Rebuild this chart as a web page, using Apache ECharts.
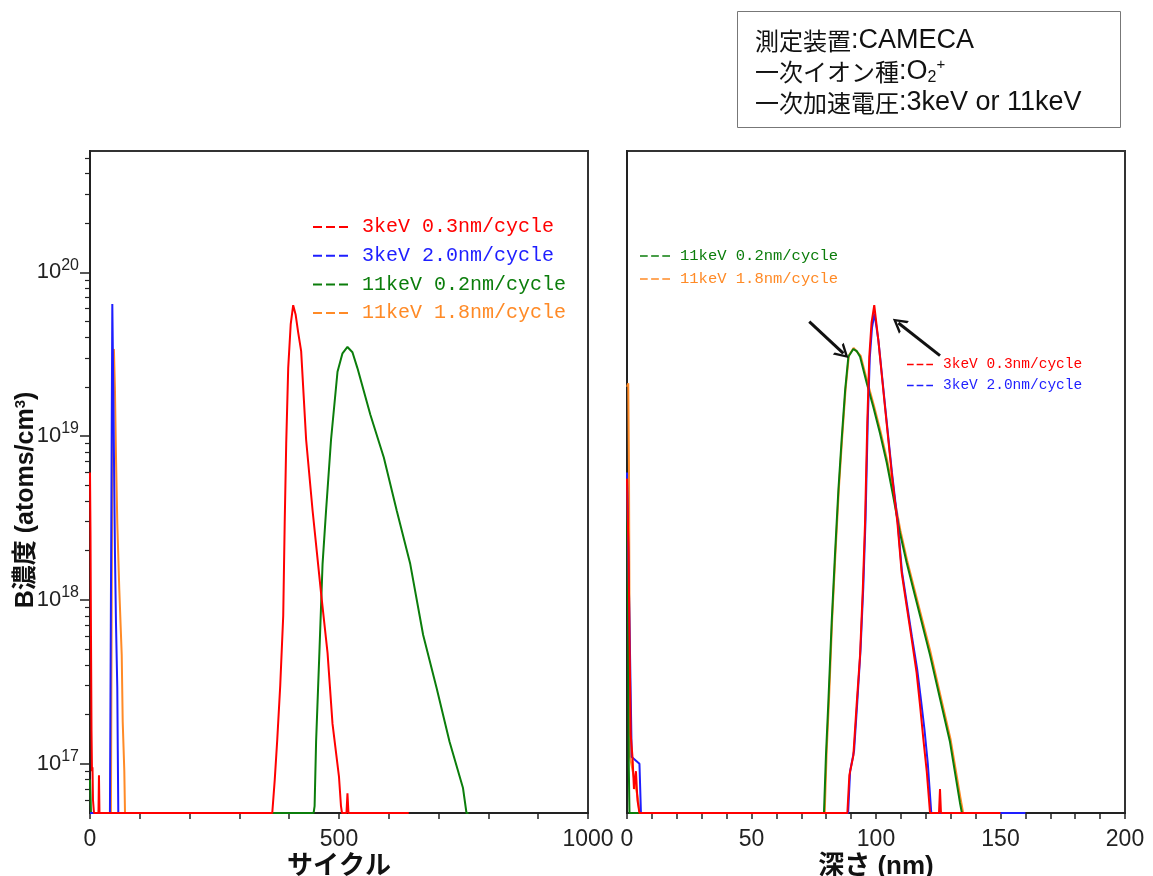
<!DOCTYPE html>
<html>
<head>
<meta charset="utf-8">
<title>B濃度プロファイル</title>
<script src="https://cdn.jsdelivr.net/npm/echarts@6/dist/echarts.min.js"></script>
<style>
  html, body { margin: 0; padding: 0; background: #fff; }
  #chart { width: 1153px; height: 876px; }
</style>
</head>
<body>
<div id="chart"></div>
<script>
// series names (legend text)
const names = ['3keV 0.3nm/cycle', '3keV 2.0nm/cycle', '11keV 0.2nm/cycle', '11keV 1.8nm/cycle']
const colors = ['#ff0000', '#1e1eff', '#0b7d0b', '#ff8a26']

// y range (atoms/cm3), decade ticks
const yMin = 5e16
const yMax = 5.5e20
const majorTicks = [1e17, 1e18, 1e19, 1e20]

// left chart: [cycle, concentration]
const red03Cycle = [[0, 6e18], [1, 2.5e18], [2, 6e17], [3, 1.6e17], [4, 9e16], [5, 9.5e16], [6, 6e16], [8, 5e16],
  [17, 5e16], [18, 8.5e16], [19, 5e16], [366, 5e16], [371, 8e16], [376, 1.4e17], [382, 3e17], [388, 8e17],
  [391, 3e18], [394, 9e18], [398, 2.6e19], [403, 4.8e19], [408, 6.3e19], [413, 5.5e19], [418, 4.3e19],
  [424, 3.3e19], [434, 9.5e18], [447, 3.5e18], [464, 1.1e18], [477, 4.75e17], [487, 1.75e17], [500, 8.3e16],
  [504, 5.5e16], [506, 5e16], [515, 5e16], [517, 6.6e16], [519, 5e16], [640, 5e16]]
const blue20Cycle = [[0, 5e16], [40, 5e16], [44.8, 6.4e19], [46.8, 1.9e19], [48.8, 4.7e18], [50.2, 1.86e18],
  [52.2, 7.2e17], [54.8, 2.9e17], [55.8, 1.2e17], [56.8, 5e16]]
const green02Cycle = [[0, 8e16], [1, 6.5e16], [2, 5e16], [449, 5e16], [451, 5.5e16], [454, 1.36e17],
  [460.6, 4.75e17], [467, 1.66e18], [474, 3.5e18], [484, 9.5e18], [497, 2.47e19], [507, 3.2e19], [517, 3.5e19],
  [527, 3.25e19], [537, 2.6e19], [563, 1.35e19], [590, 7.4e18], [616, 3.5e18], [643, 1.66e18], [669, 6.1e17],
  [696, 2.9e17], [722, 1.36e17], [749, 7.1e16], [756, 5e16], [760, 5e16]]
const orange18Cycle = [[0, 5e16], [42, 5e16], [44, 2e18], [46.5, 3.3e19], [48, 3.4e19], [50, 2e19], [52.2, 7.5e18],
  [54.8, 2.95e18], [58.8, 1.16e18], [63.7, 4.6e17], [65.7, 1.8e17], [68.9, 9e16], [70.3, 5e16]]

// right chart: [depth nm, concentration]
const red03Depth = [[0, 5.5e18], [0.6, 2e18], [1.0, 6e17], [1.5, 1.5e17], [2.2, 1.1e17], [2.8, 7e16], [3.6, 9e16],
  [4.2, 6e16], [5, 5e16], [88.5, 5e16], [89.3, 8.5e16], [90.9, 1.12e17], [92.2, 2.26e17], [93.6, 4.6e17],
  [94.7, 1.16e18], [95.6, 2.96e18], [96.5, 1.2e19], [97.3, 3.05e19], [98.2, 4.9e19], [99.3, 6.3e19],
  [100.9, 3.9e19], [103.6, 1.51e19], [106.3, 5.95e18], [108.6, 2.96e18], [110.3, 1.47e18], [112.3, 9.2e17],
  [114.3, 5.8e17], [116.3, 3.6e17], [117.7, 2.26e17], [119, 1.42e17], [120.4, 8.9e16], [121.7, 5e16],
  [125.3, 5e16], [125.7, 7e16], [126.1, 5e16], [150, 5e16]]
const blue20Depth = [[0, 6e18], [0.3, 5.9e18], [1.9, 1.1e17], [5.0, 1.0e17], [5.6, 5e16], [88.8, 5e16],
  [89.6, 9e16], [91.2, 1.2e17], [92.5, 2.4e17], [93.8, 5e17], [94.9, 1.2e18], [95.8, 3.1e18], [96.7, 1.25e19],
  [97.5, 3e19], [98.4, 4.6e19], [99.4, 5.6e19], [101, 3.8e19], [103.7, 1.5e19], [106.4, 6e18], [108.7, 3e18],
  [110.4, 1.5e18], [112.4, 9.5e17], [114.4, 6e17], [116.5, 3.8e17], [118, 2.5e17], [119.5, 1.6e17],
  [120.8, 1e17], [122.2, 5e16], [160, 5e16]]
const green02Depth = [[0, 5e18], [0.4, 8e17], [0.7, 1e17], [1, 5e16], [79.1, 5e16], [79.9, 1.12e17],
  [80.8, 2.26e17], [82.2, 7.3e17], [83.5, 1.85e18], [84.9, 4.7e18], [86.2, 9.5e18], [87.6, 1.9e19],
  [88.9, 3.05e19], [90.9, 3.4e19], [92.3, 3.3e19], [93.6, 3.05e19], [96.3, 2.1e19], [98.9, 1.51e19],
  [101.6, 1.04e19], [104.3, 6.9e18], [106.9, 4.3e18], [109.6, 2.57e18], [112.3, 1.69e18], [115, 1.16e18],
  [117.7, 8e17], [121.7, 4.6e17], [125.7, 2.5e17], [129.7, 1.36e17], [133.7, 5.8e16], [134.5, 5e16]]
const orange18Depth = [[0, 2e19], [0.5, 2.1e19], [0.8, 6e18], [1.2, 1.1e17], [4.5, 6e16], [5, 5e16],
  [79.4, 5e16], [80.2, 1.2e17], [81.1, 2.4e17], [82.4, 7.6e17], [83.7, 1.9e18], [85.1, 4.8e18], [86.4, 9.7e18],
  [87.8, 1.95e19], [89.1, 3.1e19], [91, 3.45e19], [93.8, 3.1e19], [96.5, 2.15e19], [99.1, 1.55e19],
  [101.8, 1.07e19], [104.5, 7.1e18], [107.1, 4.4e18], [109.8, 2.65e18], [112.5, 1.74e18], [115.2, 1.2e18],
  [117.9, 8.3e17], [121.9, 4.8e17], [125.9, 2.6e17], [129.9, 1.42e17], [133.9, 6.2e16], [135, 5e16]]

// annotation arrows in right chart: [depth, conc] tail -> head
const arrowTails = [[73.2, 5.0e19], [125.7, 3.1e19]]
const arrowHeads = [[86.9, 3.2e19], [109, 4.9e19]]

const minorTicks = []
for (let n = 16; n <= 20; n++) {
  for (let k = 2; k <= 9; k++) {
    const v = k * Math.pow(10, n)
    if (v > yMin && v < yMax) minorTicks.push(v)
  }
}

const numFont = '"Liberation Sans", sans-serif'
const jpFont = '"Liberation Sans", "Noto Sans CJK JP", sans-serif'
const cjkFont = '"Noto Sans CJK JP", sans-serif'
const monoFont = '"Liberation Mono", "DejaVu Sans Mono", monospace'
const dashIcon = 'path://M0,0h9v2h-9z M13,0h9v2h-9z M26,0h9v2h-9z'
const chevron = 'path://M0,12 L7,0 L14,12 L11.6,12 L7,4 L2.4,12 Z'
const axisColor = '#222'

const chart = echarts.init(document.getElementById('chart'))

function line(idx, data, xi, yi, extra) {
  return Object.assign({
    name: names[idx],
    type: 'line',
    xAxisIndex: xi,
    yAxisIndex: yi,
    data: data,
    showSymbol: false,
    symbol: 'none',
    clip: true,
    lineStyle: { width: 2, color: colors[idx] },
    itemStyle: { color: colors[idx] }
  }, extra || {})
}

function legendItems(list) {
  return list.map(i => ({ name: names[i], textStyle: { color: colors[i] } }))
}

function yLabel(v) {
  const e = Math.log10(v)
  const r = Math.round(e)
  if (Math.abs(e - r) > 1e-6) return ''
  return '{b|10}{e|' + r + '}'
}

const boxText = {
  j: { fontSize: 24, fontFamily: cjkFont, fill: '#111', lineHeight: 30 },
  l: { fontSize: 27, fontFamily: numFont, fill: '#111', lineHeight: 30 },
  sub: { fontSize: 16, fontFamily: numFont, fill: '#111', padding: [12, 0, 0, 0] },
  sup: { fontSize: 15, fontFamily: numFont, fill: '#111', padding: [0, 0, 14, 0] }
}

chart.setOption({
  animation: false,
  backgroundColor: '#fff',
  grid: [
    { left: 90, top: 151, width: 498, height: 662, outerBoundsMode: 'none', containLabel: false,
      show: true, borderColor: '#333', borderWidth: 2 },
    { left: 627, top: 151, width: 498, height: 662, outerBoundsMode: 'none', containLabel: false,
      show: true, borderColor: '#333', borderWidth: 2 }
  ],
  xAxis: [
    {
      gridIndex: 0, type: 'value', min: 0, max: 1000, interval: 100,
      axisLine: { onZero: false, lineStyle: { color: axisColor, width: 2 } },
      axisTick: { length: 6, lineStyle: { color: axisColor, width: 1.5 } },
      axisLabel: { color: '#222', fontSize: 23, fontFamily: numFont, margin: 15,
        formatter: v => (v % 500 === 0 ? String(v) : '') },
      splitLine: { show: false },
      name: 'サイクル', nameLocation: 'middle', nameGap: 41, nameMoveOverlap: false,
      nameTextStyle: { color: '#111', fontSize: 26, fontWeight: 'bold', fontFamily: jpFont }
    },
    {
      gridIndex: 1, type: 'value', min: 0, max: 200, interval: 10,
      axisLine: { onZero: false, lineStyle: { color: axisColor, width: 2 } },
      axisTick: { length: 6, lineStyle: { color: axisColor, width: 1.5 } },
      axisLabel: { color: '#222', fontSize: 23, fontFamily: numFont, margin: 15,
        formatter: v => (v % 50 === 0 ? String(v) : '') },
      splitLine: { show: false },
      name: '深さ (nm)', nameLocation: 'middle', nameGap: 41, nameMoveOverlap: false,
      nameTextStyle: { color: '#111', fontSize: 26, fontWeight: 'bold', fontFamily: jpFont }
    }
  ],
  yAxis: [
    {
      gridIndex: 0, type: 'log', logBase: 10, min: yMin, max: yMax, position: 'left',
      axisLine: { show: true, lineStyle: { color: axisColor, width: 2 } },
      axisTick: { show: true, length: 10, customValues: majorTicks, lineStyle: { color: axisColor, width: 1.5 } },
      axisLabel: {
        customValues: majorTicks, margin: 11, color: '#222', formatter: yLabel,
        rich: {
          b: { fontSize: 22, fontFamily: numFont, color: '#222' },
          e: { fontSize: 16, fontFamily: numFont, color: '#222', padding: [0, 0, 14, 0] }
        }
      },
      splitLine: { show: false },
      name: 'B濃度 (atoms/cm{s|3})', nameLocation: 'middle', nameRotate: 90, nameGap: 50,
      nameMoveOverlap: false,
      nameTextStyle: {
        color: '#111', fontSize: 25, fontWeight: 'bold', fontFamily: jpFont, padding: [0, 36, 0, 0],
        rich: { s: { fontSize: 15, fontWeight: 'bold', fontFamily: jpFont, padding: [0, 0, 12, 0] } }
      }
    },
    {
      gridIndex: 0, type: 'log', logBase: 10, min: yMin, max: yMax, position: 'left', offset: 0,
      axisLine: { show: false },
      axisTick: { show: true, length: 5, customValues: minorTicks, lineStyle: { color: axisColor, width: 1.2 } },
      axisLabel: { show: false },
      splitLine: { show: false }
    },
    {
      gridIndex: 1, type: 'log', logBase: 10, min: yMin, max: yMax, position: 'left',
      axisLine: { show: true, lineStyle: { color: axisColor, width: 2 } },
      axisTick: { show: false },
      axisLabel: { show: false },
      splitLine: { show: false }
    }
  ],
  legend: [
    {
      left: 313, top: 217, padding: 0, orient: 'vertical', selectedMode: false,
      itemWidth: 35, itemHeight: 2, itemGap: 8.7, icon: dashIcon,
      textStyle: { fontFamily: monoFont, fontSize: 20, lineHeight: 20, padding: [0, 0, 0, 9] },
      data: legendItems([0, 1, 2, 3])
    },
    {
      left: 640, top: 248, padding: 0, orient: 'vertical', selectedMode: false,
      itemWidth: 30, itemHeight: 2, itemGap: 7, icon: dashIcon,
      textStyle: { fontFamily: monoFont, fontSize: 15.5, lineHeight: 16, padding: [0, 0, 0, 5] },
      data: legendItems([2, 3])
    },
    {
      left: 907, top: 357, padding: 0, orient: 'vertical', selectedMode: false,
      itemWidth: 26, itemHeight: 2, itemGap: 6, icon: dashIcon,
      textStyle: { fontFamily: monoFont, fontSize: 14.5, lineHeight: 14, padding: [0, 0, 0, 5] },
      data: legendItems([0, 1])
    }
  ],
  graphic: [
    { type: 'rect', left: 737, top: 11, shape: { width: 383, height: 116 },
      style: { fill: '#fff', stroke: '#777', lineWidth: 1 } },
    { type: 'text', left: 755, top: 27,
      style: { text: '{j|測定装置}{l|:CAMECA}', rich: boxText } },
    { type: 'text', left: 755, top: 57,
      style: { text: '{j|一次イオン種}{l|:O}{sub|2}{sup|+}', rich: boxText } },
    { type: 'text', left: 755, top: 89,
      style: { text: '{j|一次加速電圧}{l|:3keV or 11keV}', rich: boxText } }
  ],
  series: [
    line(3, orange18Cycle, 0, 0),
    line(2, green02Cycle, 0, 0),
    line(1, blue20Cycle, 0, 0),
    line(0, red03Cycle, 0, 0),
    line(3, orange18Depth, 1, 2),
    line(2, green02Depth, 1, 2, {
      markLine: {
        silent: true,
        symbol: ['none', chevron],
        symbolSize: [16, 14],
        label: { show: false },
        lineStyle: { color: '#111', width: 3, type: 'solid' },
        data: arrowTails.map((t, i) => [{ coord: t }, { coord: arrowHeads[i] }])
      }
    }),
    line(1, blue20Depth, 1, 2),
    line(0, red03Depth, 1, 2)
  ]
})
</script>
</body>
</html>
